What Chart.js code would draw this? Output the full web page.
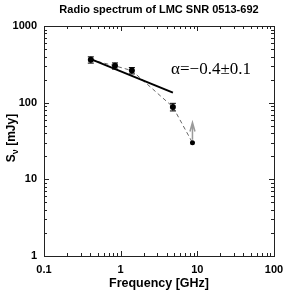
<!DOCTYPE html>
<html>
<head>
<meta charset="utf-8">
<script src="https://cdn.jsdelivr.net/npm/chart.js@4/dist/chart.umd.min.js"></script>
<style>
  html, body { margin: 0; padding: 0; background: #fff; }
  #wrap { width: 286px; height: 292px; position: relative; }
</style>
</head>
<body>
<div id="wrap"><canvas id="spec"></canvas></div>
<script>
// measured points (GHz, mJy)
const freqs = [0.408, 0.843, 1.4, 4.8, 8.64];
const fluxes = [362, 302, 262, 88, 30];
const fluxErr = [34, 28, 25, 10, 0];
const pointSizes = [3, 3, 3, 3, 2.5];
// upper end of the grey arrow on the last point
const limitFreq = 8.64;
const limitTo = 55;
// fitted power law, end points
const fitFreqs = [0.408, 4.8];
const fitFluxes = [370, 135];
const xTicks = [0.1, 1, 10, 100];
const xTickLabels = ['0.1', '1', '10', '100'];
const yTicks = [1, 10, 100, 1000];
const yTickLabels = ['1', '10', '100', '1000'];
const chartTitle = 'Radio spectrum of LMC SNR 0513-692';
const alphaText = 'α=−0.4±0.1';
const alphaAt = [4.55, 268];

const sans = '"Liberation Sans", Arial, sans-serif';

const frame = {
    id: 'frame',
    afterDatasetsDraw(chart) {
        const { ctx, chartArea: a, scales: { x, y } } = chart;
        ctx.save();

        // error bars
        ctx.strokeStyle = '#000';
        ctx.lineWidth = 1;
        freqs.forEach((f, i) => {
            if (!fluxErr[i]) return;
            const px = x.getPixelForValue(f);
            const top = y.getPixelForValue(fluxes[i] + fluxErr[i]);
            const bot = y.getPixelForValue(fluxes[i] - fluxErr[i]);
            ctx.beginPath();
            ctx.moveTo(px, top); ctx.lineTo(px, bot);
            ctx.moveTo(px - 3, top); ctx.lineTo(px + 3, top);
            ctx.moveTo(px - 3, bot); ctx.lineTo(px + 3, bot);
            ctx.stroke();
        });

        // grey arrow
        const ax = x.getPixelForValue(limitFreq);
        const ay0 = y.getPixelForValue(fluxes[fluxes.length - 1]);
        const ay1 = y.getPixelForValue(limitTo);
        ctx.strokeStyle = '#9a9a9a';
        ctx.lineWidth = 1.5;
        ctx.beginPath();
        ctx.moveTo(ax, ay0 - 3); ctx.lineTo(ax, ay1);
        ctx.moveTo(ax - 2.5, ay1 + 9); ctx.lineTo(ax, ay1); ctx.lineTo(ax + 2.5, ay1 + 9);
        ctx.stroke();

        // box
        ctx.strokeStyle = '#222';
        ctx.lineWidth = 1;
        ctx.strokeRect(a.left + 0.5, a.top + 0.5, a.right - a.left, a.bottom - a.top);

        // inward ticks on all sides
        ctx.beginPath();
        for (let k = -1; k < 2; k++) {
            for (let m = 1; m < 10; m++) {
                const v = m * Math.pow(10, k);
                const len = m === 1 ? 5 : 3;
                const px = Math.round(x.getPixelForValue(v)) + 0.5;
                ctx.moveTo(px, a.bottom); ctx.lineTo(px, a.bottom - len);
                ctx.moveTo(px, a.top); ctx.lineTo(px, a.top + len);
            }
        }
        for (let k = 0; k < 3; k++) {
            for (let m = 1; m < 10; m++) {
                const v = m * Math.pow(10, k);
                const len = m === 1 ? 5 : 3;
                const py = Math.round(y.getPixelForValue(v)) + 0.5;
                ctx.moveTo(a.left, py); ctx.lineTo(a.left + len, py);
                ctx.moveTo(a.right, py); ctx.lineTo(a.right - len, py);
            }
        }
        ctx.stroke();

        // title, centred over the plot box
        ctx.fillStyle = '#000';
        ctx.font = 'bold 11px ' + sans;
        ctx.textAlign = 'center';
        ctx.textBaseline = 'middle';
        ctx.fillText(chartTitle, (a.left + a.right) / 2, 10);

        // spectral index label
        ctx.font = '17px "Liberation Serif", "Times New Roman", serif';
        ctx.textAlign = 'left';
        ctx.fillText(alphaText, x.getPixelForValue(alphaAt[0]), y.getPixelForValue(alphaAt[1]));

        // y axis title with subscript nu
        const big = 'bold 12px ' + sans;
        const small = 'bold 9px ' + sans;
        ctx.font = big;
        const wS = ctx.measureText('S').width;
        const wRest = ctx.measureText(' [mJy]').width;
        ctx.font = small;
        const wNu = ctx.measureText('ν').width;
        const total = wS + wNu + wRest;
        ctx.translate(11, (a.top + a.bottom) / 2 - 3);
        ctx.rotate(-Math.PI / 2);
        ctx.textBaseline = 'alphabetic';
        let cx = -total / 2;
        ctx.font = big;
        ctx.fillText('S', cx, 4);
        cx += wS;
        ctx.font = small;
        ctx.fillText('ν', cx, 7);
        cx += wNu;
        ctx.font = big;
        ctx.fillText(' [mJy]', cx, 4);

        ctx.restore();
    }
};

new Chart(document.getElementById('spec'), {
    type: 'line',
    data: {
        datasets: [
            {
                label: 'data',
                data: freqs.map((f, i) => ({ x: f, y: fluxes[i] })),
                showLine: false,
                pointRadius: pointSizes,
                pointBackgroundColor: '#000',
                pointBorderColor: '#000',
                pointBorderWidth: 0,
            },
            {
                label: 'fit',
                data: fitFreqs.map((f, i) => ({ x: f, y: fitFluxes[i] })),
                borderColor: '#000',
                borderWidth: 2,
                pointRadius: 0,
            },
            {
                label: 'trend',
                data: freqs.map((f, i) => ({ x: f, y: fluxes[i] })),
                borderColor: '#666',
                borderWidth: 1,
                borderDash: [4, 3],
                pointRadius: 0,
            },
        ]
    },
    options: {
        responsive: true,
        maintainAspectRatio: false,
        animation: false,
        layout: { padding: { left: 0, right: 12, top: 26, bottom: 0 } },
        plugins: {
            legend: { display: false },
            tooltip: { enabled: false },
            title: { display: false },
        },
        scales: {
            x: {
                type: 'logarithmic',
                min: 0.1,
                max: 100,
                afterBuildTicks: (s) => { s.ticks = xTicks.map(v => ({ value: v })); },
                afterFit: (s) => { s.height = 36; s.paddingLeft = 0; s.paddingRight = 0; },
                grid: { display: false, drawTicks: false },
                border: { display: false },
                ticks: {
                    autoSkip: false,
                    maxRotation: 0,
                    padding: 7,
                    color: '#000',
                    font: { family: sans, size: 11, weight: 'bold' },
                    callback: (v) => xTickLabels[xTicks.indexOf(v)] ?? '',
                },
                title: {
                    display: true,
                    text: 'Frequency [GHz]',
                    color: '#000',
                    font: { family: sans, size: 12.5, weight: 'bold' },
                    padding: { top: 0, bottom: 1 },
                },
            },
            y: {
                type: 'logarithmic',
                min: 1,
                max: 1000,
                afterBuildTicks: (s) => { s.ticks = yTicks.map(v => ({ value: v })); },
                afterFit: (s) => { s.width = 44; s.paddingTop = 0; s.paddingBottom = 0; },
                grid: { display: false, drawTicks: false },
                border: { display: false },
                ticks: {
                    autoSkip: false,
                    padding: 7,
                    color: '#000',
                    font: { family: sans, size: 11, weight: 'bold' },
                    callback: (v) => yTickLabels[yTicks.indexOf(v)] ?? '',
                },
            },
        },
    },
    plugins: [frame],
});
</script>
</body>
</html>
